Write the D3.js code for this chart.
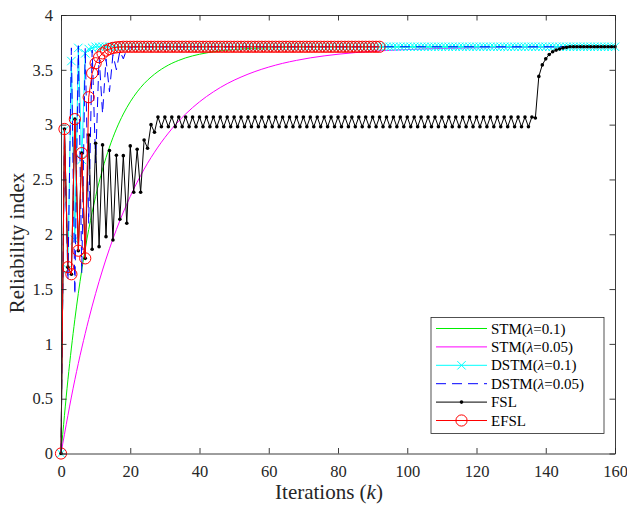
<!DOCTYPE html>
<html>
<head>
<meta charset="utf-8">
<script src="https://cdn.jsdelivr.net/npm/d3@7/dist/d3.min.js"></script>
<style>
  html, body { margin: 0; padding: 0; background: #fff; }
  svg { display: block; font-family: "Liberation Serif", "Times New Roman", serif; }
</style>
</head>
<body>
<svg id="chart" width="627" height="505"></svg>
<script>
// ---- data -------------------------------------------------------------
const xTicks = [0, 20, 40, 60, 80, 100, 120, 140, 160];
const yTicks = [0, 0.5, 1, 1.5, 2, 2.5, 3, 3.5, 4];

// STM (λ = 0.1): sampled iterations and reliability index
const stm01K = [0, 2, 4, 6, 8, 10, 12, 14, 16, 18, 20, 22, 24, 26, 28, 30, 32, 34, 36, 38, 40, 45, 50, 60, 80, 160];
const stm01  = [0, 0.673, 1.223, 1.674, 2.043, 2.345, 2.593, 2.795, 2.961, 3.097, 3.208, 3.299, 3.374, 3.434, 3.484, 3.525, 3.559, 3.586, 3.609, 3.627, 3.642, 3.669, 3.685, 3.701, 3.709, 3.71];

// STM (λ = 0.05)
const stm005K = [0, 4, 8, 12, 16, 20, 24, 28, 32, 36, 40, 44, 48, 52, 56, 60, 64, 68, 72, 76, 80, 90, 100, 120, 160];
const stm005  = [0, 0.673, 1.223, 1.674, 2.043, 2.345, 2.593, 2.795, 2.961, 3.097, 3.208, 3.299, 3.374, 3.434, 3.484, 3.525, 3.559, 3.586, 3.609, 3.627, 3.642, 3.669, 3.685, 3.701, 3.71];

// steady level every method settles at
const steadyLevel = 3.71;

// DSTM (λ = 0.1): first iterations, then steady until k = 160
const dstm01Start = [0, 2.95, 1.68, 3.58, 1.95, 3.70, 2.68, 3.65, 3.69, 3.70];
// DSTM (λ = 0.05)
const dstm005Start = [0, 2.9, 1.58, 3.70, 1.45, 3.72, 1.65, 3.70, 2.10, 3.68, 2.65, 3.62, 3.10, 3.60, 3.30, 3.64, 3.50, 3.67, 3.60, 3.69, 3.70];

// FSL: start-up phase (k = 0..27), oscillating plateau (k = 28..135), jump and settle (k = 136..146)
const fslStart = [0, 2.96, 1.70, 1.635, 3.05, 1.85, 2.74, 1.78, 2.906, 1.863, 2.83, 1.887, 2.815, 1.978,
                  2.763, 1.948, 2.72, 2.137, 2.717, 2.10, 2.806, 2.383, 2.776, 2.383, 2.86, 2.785, 3.0, 2.93];
const fslPlateauPair = [3.07, 2.98];
const fslPlateauPairs = 54;
const fslJump = [3.07, 3.06, 3.44, 3.545, 3.60, 3.64, 3.665, 3.68, 3.69, 3.70, 3.705];

// EFSL (k = 0..17), then steady until k = 92
const efslStart = [0, 2.96, 1.70, 1.635, 3.05, 1.85, 2.74, 1.78, 3.25, 3.47, 3.56, 3.615, 3.65, 3.675, 3.69, 3.70, 3.705, 3.708];
const efslLastK = 92;
const lastK = 160;

// ---- series assembly ----------------------------------------------------
function padTo(values, lastIndex, level) {
  const out = values.slice();
  while (out.length <= lastIndex) out.push(level);
  return out;
}
const toPoints = (ks, vs) => vs.map((v, i) => ({ k: ks[i], v }));
const indexed = vs => vs.map((v, i) => ({ k: i, v }));

const dstm01 = padTo(dstm01Start, lastK, steadyLevel);
const dstm005 = padTo(dstm005Start, lastK, steadyLevel);
let fsl = fslStart.slice();
for (let i = 0; i < fslPlateauPairs; i++) fsl.push(...fslPlateauPair);
fsl.push(...fslJump);
fsl = padTo(fsl, lastK, steadyLevel);
const efsl = padTo(efslStart, efslLastK, steadyLevel);

const series = [
  { name: "STM", lam: "0.1",  color: "#00ee00", pts: toPoints(stm01K, stm01),  curve: d3.curveMonotoneX },
  { name: "STM", lam: "0.05", color: "#ff00ff", pts: toPoints(stm005K, stm005), curve: d3.curveMonotoneX },
  { name: "DSTM", lam: "0.1", color: "#00ffff", pts: indexed(dstm01), marker: "x" },
  { name: "DSTM", lam: "0.05", color: "#0000ff", pts: indexed(dstm005), dash: "10,6" },
  { name: "FSL", color: "#000000", pts: indexed(fsl), marker: "dot" },
  { name: "EFSL", color: "#ff0000", pts: indexed(efsl), marker: "circle" }
];

// ---- layout -----------------------------------------------------------
const svg = d3.select("#chart");
const L = 61, R = 615, T = 15, B = 453.5;
const x = d3.scaleLinear().domain([0, 160]).range([L, R]);
const y = d3.scaleLinear().domain([0, 4]).range([B, T]);
const axisColor = "#262626";

const marks = svg.append("g");

series.forEach(s => {
  const line = d3.line().x(d => x(d.k)).y(d => y(d.v));
  if (s.curve) line.curve(s.curve);
  marks.append("path")
    .attr("d", line(s.pts))
    .attr("fill", "none")
    .attr("stroke", s.color)
    .attr("stroke-width", 1)
    .attr("stroke-dasharray", s.dash || null);
  drawMarkers(marks, s, s.pts.map(d => [x(d.k), y(d.v)]));
});

function drawMarkers(g, s, xy) {
  if (s.marker === "x") {
    const h = 4.2;
    g.append("g").selectAll("path").data(xy).join("path")
      .attr("d", d => `M${d[0]-h},${d[1]-h}L${d[0]+h},${d[1]+h}M${d[0]-h},${d[1]+h}L${d[0]+h},${d[1]-h}`)
      .attr("stroke", s.color).attr("stroke-width", 1).attr("fill", "none");
  } else if (s.marker === "dot") {
    g.append("g").selectAll("circle").data(xy).join("circle")
      .attr("cx", d => d[0]).attr("cy", d => d[1]).attr("r", 1.8)
      .attr("fill", s.color);
  } else if (s.marker === "circle") {
    g.append("g").selectAll("circle").data(xy).join("circle")
      .attr("cx", d => d[0]).attr("cy", d => d[1]).attr("r", 5.6)
      .attr("fill", "none").attr("stroke", s.color).attr("stroke-width", 1);
  }
}

// ---- axes (inward ticks, mirrored on top/right) -----------------------------
function styleAxis(g) {
  g.selectAll("path.domain").attr("stroke", axisColor).attr("stroke-width", 0.9);
  g.selectAll(".tick line").attr("stroke", axisColor).attr("stroke-width", 0.9);
  g.selectAll(".tick text").attr("fill", axisColor).attr("font-size", 16.5)
    .attr("font-family", "Liberation Serif, Times New Roman, serif");
}
svg.append("g").attr("transform", `translate(0,${B})`)
  .call(d3.axisBottom(x).tickValues(xTicks).tickFormat(d3.format("d")).tickSizeInner(-5.5).tickSizeOuter(0).tickPadding(12))
  .call(styleAxis);
svg.append("g").attr("transform", `translate(0,${T})`)
  .call(d3.axisTop(x).tickValues(xTicks).tickFormat("").tickSizeInner(-5.5).tickSizeOuter(0))
  .call(styleAxis);
svg.append("g").attr("transform", `translate(${L},0)`)
  .call(d3.axisLeft(y).tickValues(yTicks).tickFormat(d => String(d)).tickSizeInner(-5.5).tickSizeOuter(0).tickPadding(8))
  .call(styleAxis);
svg.append("g").attr("transform", `translate(${R},0)`)
  .call(d3.axisRight(y).tickValues(yTicks).tickFormat("").tickSizeInner(-5.5).tickSizeOuter(0))
  .call(styleAxis);

// ---- axis titles --------------------------------------------------------
const xt = svg.append("text").attr("x", 329).attr("y", 499).attr("text-anchor", "middle")
  .attr("font-size", 21).attr("fill", axisColor);
xt.append("tspan").text("Iterations (");
xt.append("tspan").attr("font-style", "italic").text("k");
xt.append("tspan").text(")");

svg.append("text").attr("transform", "translate(24,243) rotate(-90)")
  .attr("text-anchor", "middle").attr("font-size", 21).attr("fill", axisColor)
  .text("Reliability index");

// ---- legend -------------------------------------------------------------
const lg = svg.append("g");
lg.append("rect").attr("x", 431).attr("y", 317.5).attr("width", 173).attr("height", 116)
  .attr("fill", "#fff").attr("stroke", axisColor).attr("stroke-width", 0.8);
series.forEach((s, i) => {
  const cy = 328.5 + i * 18.4;
  const row = lg.append("g");
  row.append("line").attr("x1", 436).attr("x2", 487).attr("y1", cy).attr("y2", cy)
    .attr("stroke", s.color).attr("stroke-width", 1).attr("stroke-dasharray", s.dash || null);
  drawMarkers(row, s, [[461.5, cy]]);
  const t = row.append("text").attr("x", 491).attr("y", cy + 5).attr("font-size", 15).attr("fill", "#000");
  if (s.lam) {
    t.append("tspan").text(s.name + "(");
    t.append("tspan").attr("font-style", "italic").text("λ");
    t.append("tspan").text("=" + s.lam + ")");
  } else {
    t.text(s.name);
  }
});
</script>
</body>
</html>
